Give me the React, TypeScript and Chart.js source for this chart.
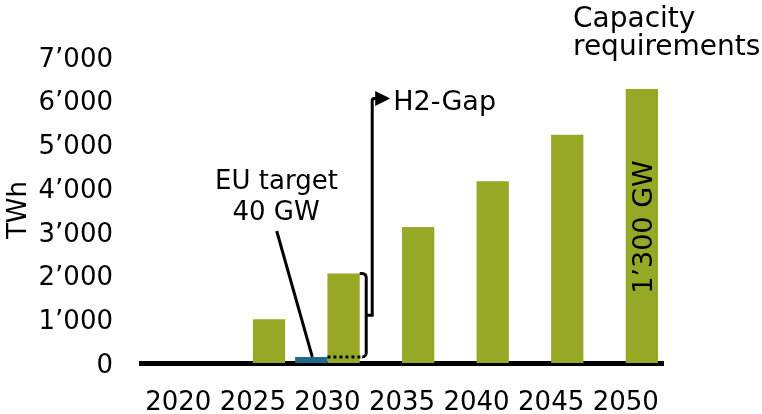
import React, { useEffect, useRef } from "react";
import { Chart, registerables } from "chart.js";

Chart.register(...registerables);

const years = ["2020", "2025", "2030", "2035", "2040", "2045", "2050"];
const euTarget = [null, null, 140, null, null, null, null];
const requirement = [0, 1000, 2050, 3110, 4160, 5220, 6270];
const yMax = 7000;
const yStep = 1000;
const gapLevel = 6050;
const barText = "1’300 GW";
const euText = ["EU target", "40 GW"];
const gapText = "H2-Gap";
const capText = ["Capacity", "requirements"];
const axisTitle = "TWh";

const FONT = "'DejaVu Sans', Verdana, sans-serif";
const GREEN = "#97a826";
const BLUE = "#1d6a8d";

function fmt(v: number): string {
  if (v === 0) return "0";
  const th = Math.floor(v / 1000);
  const rest = String(v % 1000).padStart(3, "0");
  return `${th}’${rest}`;
}

const annotPlugin = {
  id: "annot",
  afterDraw(chart: any) {
    const ctx = chart.ctx as CanvasRenderingContext2D;
    const yS = chart.scales.y;
    const blue = chart.getDatasetMeta(0).data[2];
    const green = chart.getDatasetMeta(1).data[2];
    const g50 = chart.getDatasetMeta(1).data[6];
    ctx.save();
    ctx.strokeStyle = "#000";
    ctx.fillStyle = "#000";
    ctx.lineWidth = 3;

    const blueTop = blue.y;
    const blueRight = blue.x + blue.width / 2;
    const greenRight = green.x + green.width / 2;
    const bx = greenRight + 6.5;
    const r = 4;

    // dotted line
    ctx.setLineDash([3, 3]);
    ctx.beginPath();
    ctx.moveTo(blueRight, blueTop);
    ctx.lineTo(bx - r, blueTop);
    ctx.stroke();
    ctx.setLineDash([]);

    // bracket
    const top = green.y;
    const mid = (top + blueTop) / 2;
    ctx.beginPath();
    ctx.moveTo(greenRight, top);
    ctx.arcTo(bx, top, bx, mid, r);
    ctx.lineTo(bx, blueTop - r);
    ctx.arcTo(bx, blueTop, bx - r, blueTop, r);
    ctx.stroke();

    // stem to H2-Gap
    const sx = bx + 6;
    const gapY = yS.getPixelForValue(gapLevel);
    ctx.beginPath();
    ctx.moveTo(bx, mid);
    ctx.lineTo(sx, mid);
    ctx.lineTo(sx, gapY + 2);
    ctx.arcTo(sx, gapY, sx + 2, gapY, 2);
    ctx.lineTo(sx + 4, gapY);
    ctx.stroke();
    ctx.beginPath();
    ctx.moveTo(sx + 3, gapY - 7.5);
    ctx.lineTo(sx + 18, gapY);
    ctx.lineTo(sx + 3, gapY + 7.5);
    ctx.closePath();
    ctx.fill();

    ctx.font = `27px ${FONT}`;
    ctx.textAlign = "left";
    ctx.textBaseline = "middle";
    ctx.fillText(gapText, sx + 21, gapY + 4);

    // EU leader line
    ctx.beginPath();
    ctx.moveTo(276.7, 231);
    ctx.lineTo(blue.x + 1, blueTop);
    ctx.stroke();

    ctx.font = `26px ${FONT}`;
    ctx.textAlign = "center";
    ctx.fillText(euText[0], 276.5, 182);
    ctx.fillText(euText[1], 276, 213);

    // capacity requirements
    ctx.font = `28px ${FONT}`;
    ctx.textAlign = "left";
    ctx.textBaseline = "alphabetic";
    ctx.fillText(capText[0], 573, 27);
    ctx.fillText(capText[1], 573, 55);

    // rotated bar text
    ctx.save();
    ctx.translate(g50.x + 3, 227);
    ctx.rotate(-Math.PI / 2);
    ctx.textAlign = "center";
    ctx.textBaseline = "middle";
    ctx.font = `27px ${FONT}`;
    ctx.fillText(barText, 0, 0);
    ctx.restore();

    ctx.restore();
  },
};

export default function App() {
  const ref = useRef<HTMLCanvasElement>(null);
  useEffect(() => {
    const canvas = ref.current;
    if (!canvas) return;
    const chart = new Chart(canvas, {
      type: "bar",
      data: {
        labels: years,
        datasets: [
          {
            label: "EU target",
            data: euTarget as any,
            backgroundColor: BLUE,
            borderWidth: 0,
            categoryPercentage: 0.866,
            barPercentage: 1,
          },
          {
            label: "Requirements",
            data: requirement,
            backgroundColor: GREEN,
            borderWidth: 0,
            categoryPercentage: 0.866,
            barPercentage: 1,
          },
        ],
      },
      options: {
        responsive: false,
        animation: false,
        layout: { padding: { top: 57, right: 99, bottom: 0, left: 0 } },
        plugins: {
          legend: { display: false },
          tooltip: { enabled: false },
        },
        scales: {
          x: {
            grid: { display: false, drawTicks: false },
            border: { display: true, color: "#000", width: 5 },
            ticks: {
              color: "#000",
              font: { family: FONT, size: 26 },
              padding: 25,
              maxRotation: 0,
              autoSkip: false,
            },
            afterFit: (s: any) => {
              s.height = 51;
            },
          },
          y: {
            min: 0,
            max: yMax,
            grid: { display: false, drawTicks: false },
            border: { display: false },
            ticks: {
              stepSize: yStep,
              color: "#000",
              font: { family: FONT, size: 26 },
              padding: 28,
              labelOffset: 3,
              callback: (v: any) => fmt(Number(v)),
            },
            title: {
              display: true,
              text: axisTitle,
              color: "#000",
              font: { family: FONT, size: 26 },
              padding: { top: 4, bottom: 0 },
            },
            afterFit: (s: any) => {
              s.width = 141;
            },
          },
        },
      },
      plugins: [annotPlugin],
    });
    return () => chart.destroy();
  }, []);
  return (
    <div style={{ position: "absolute", left: 0, top: 0, width: 762, height: 414, background: "#fff" }}>
      <canvas ref={ref} width={762} height={414} />
    </div>
  );
}
